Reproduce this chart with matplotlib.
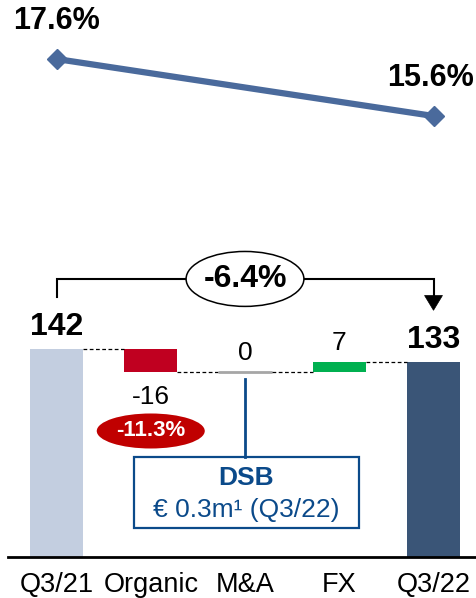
import matplotlib
matplotlib.use("Agg")
import matplotlib.pyplot as plt
from matplotlib.patches import Ellipse, Rectangle, Polygon

plt.rcParams['font.family'] = ['Liberation Sans', 'DejaVu Sans']

# data
categories = ['Q3/21', 'Organic', 'M&A', 'FX', 'Q3/22']
deltas = [142, -16, 0, 7]          # start value + changes
end_value = 133
bar_colors = ['#C3CEE0', '#C00020', '#A6A6A6', '#00B050', '#3A5577']
margin_labels = ['17.6%', '15.6%']
margin_values = [17.6, 15.6]
total_change = '-6.4%'
organic_change = '-11.3%'

fig = plt.figure(figsize=(4.77, 5.98), dpi=100)

# waterfall axes (pixel-aligned linear mapping over whole figure)
ax = fig.add_axes([0, 0, 1, 1])
ax.set_xlim(-0.5995, 4.4615)
ax.set_ylim(-28.0, 380.2)
ax.axis('off')

w = 0.565
levels = [0]
for d in deltas:
    levels.append(levels[-1] + d)
# levels: 0, 142, 126, 126, 133

for i, cat in enumerate(categories):
    if i == 0:
        lo, hi = 0, levels[1]
    elif i == len(categories) - 1:
        lo, hi = 0, end_value
    else:
        lo, hi = sorted([levels[i], levels[i + 1]])
    if hi == lo:
        ax.plot([i - w / 2, i + w / 2], [lo, lo], color=bar_colors[i], lw=2, solid_capstyle='butt')
    else:
        ax.bar(i, hi - lo, bottom=lo, width=w, color=bar_colors[i], edgecolor='none')
    # connectors
    if i < len(categories) - 1:
        y = levels[i + 1]
        ax.plot([i + w / 2, i + 1 - w / 2], [y, y], color='black', lw=0.9, ls=(0, (3, 2)))

# value labels
ax.text(0, levels[1] + 15, str(deltas[0]), ha='center', va='center', fontsize=23, fontweight='bold')
ax.text(4, end_value + 15, str(end_value), ha='center', va='center', fontsize=23, fontweight='bold')
for i in range(1, 4):
    d = deltas[i]
    if d < 0:
        ax.text(i, levels[i + 1] - 17, str(d), ha='center', va='center', fontsize=19)
    else:
        ax.text(i, levels[i + 1] + 13, str(d), ha='center', va='center', fontsize=19)

# red ellipse under organic
ax.add_patch(Ellipse((1, 86), 1.146, 23.9, facecolor='#C00000', edgecolor='none'))
ax.text(1, 86, organic_change, ha='center', va='center', fontsize=16, fontweight='bold', color='white')

# bracket with total change
by = 189.8
ax.plot([0, 0, 4, 4], [177.5, by, by, 176], color='black', lw=1.5, solid_joinstyle='miter')
ax.add_patch(Polygon([[4 - 0.095, 178.5], [4 + 0.095, 178.5], [4, 168.4]], closed=True,
                     facecolor='black', edgecolor='black', lw=0.5))
ax.add_patch(Ellipse((2, by), 1.25, 37.5, facecolor='white', edgecolor='black', lw=1.1, zorder=3))
ax.text(2, by, total_change, ha='center', va='center', fontsize=23, fontweight='bold', zorder=4)

# DSB callout
dsb_col = '#0B4A8A'
ax.plot([2, 2], [121.5, 68.3], color=dsb_col, lw=2)
ax.add_patch(Rectangle((0.822, 19.8), 3.21 - 0.822, 68.3 - 19.8, facecolor='white',
                       edgecolor=dsb_col, lw=1.6))
ax.text(2.01, 54, 'DSB', ha='center', va='center', fontsize=19, fontweight='bold', color=dsb_col)
ax.text(2.01, 32, '€ 0.3m¹ (Q3/22)', ha='center', va='center', fontsize=19, color=dsb_col)

# baseline and category labels
ax.plot([-0.515, 4.4615], [0, 0], color='black', lw=2)
for i, cat in enumerate(categories):
    ax.text(i, -19.1, cat, ha='center', va='center', fontsize=19.5)

# margin line
ax2 = fig.add_axes([0, 0, 1, 1])
ax2.set_xlim(-0.5995, 4.4615)
ax2.set_ylim(-1.31, 19.67)
ax2.axis('off')
ax2.patch.set_alpha(0)
xs = [0, 4]
ax2.plot(xs, margin_values, color='#4A6A9C', lw=4.5, marker='D', markersize=10)
for x, v, lab, dx in zip(xs, margin_values, margin_labels, [0, -2]):
    ax2.annotate(lab, (x, v), xytext=(dx, 27.5), textcoords='offset points',
                 ha='center', va='center', fontsize=22, fontweight='bold')

fig.savefig('out.png', dpi=100)
